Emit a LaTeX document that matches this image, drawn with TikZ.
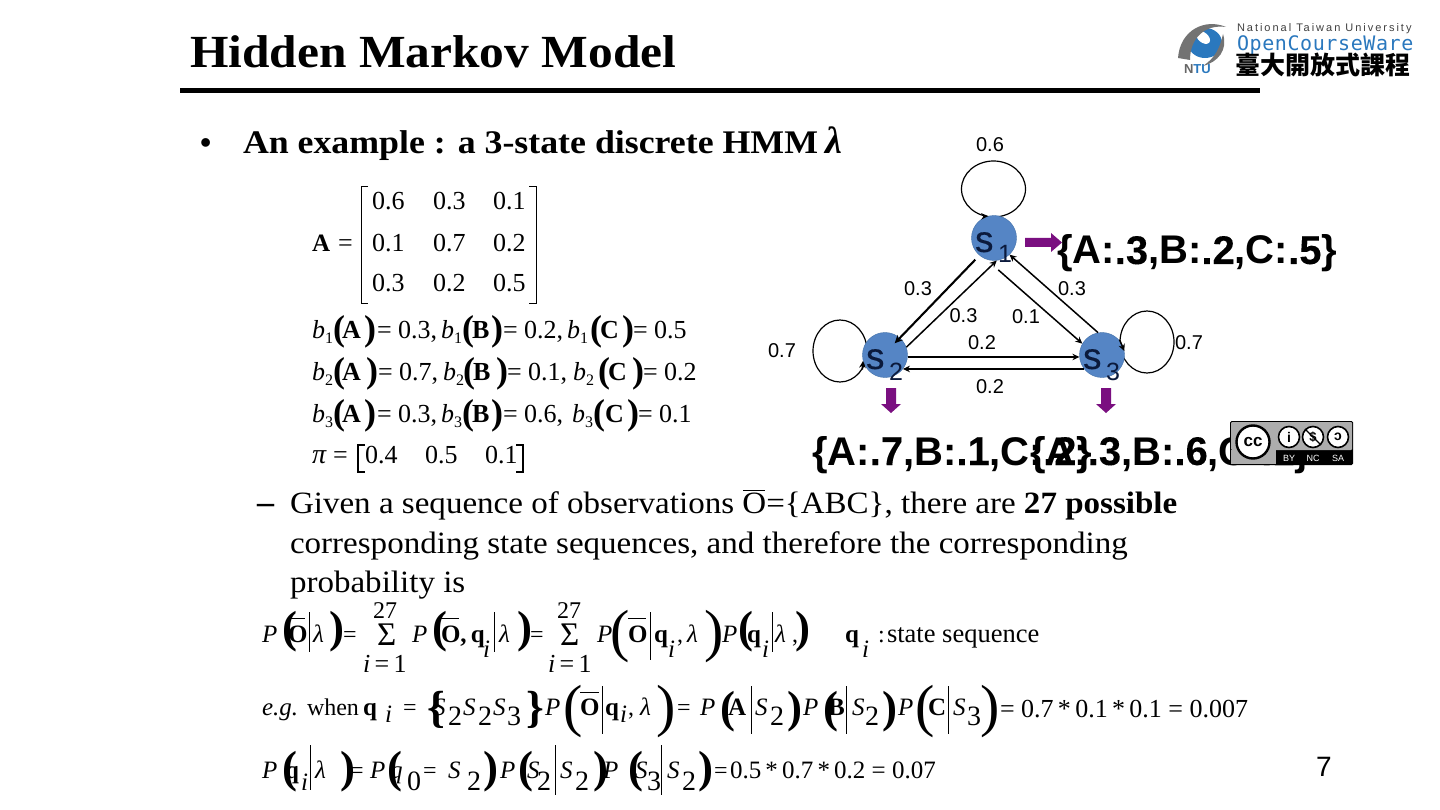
\documentclass[tikz,border=0pt]{standalone}
\usepackage{fontspec}
\usetikzlibrary{shapes.geometric,arrows.meta}
\setmainfont{Liberation Serif}
\setsansfont{Liberation Sans}
\newfontfamily\cjk{Noto Sans CJK TC}
\newfontfamily\natl[LetterSpace=18]{Liberation Sans}
\newfontfamily\ocw[LetterSpace=3]{DejaVu Sans Mono}
\newfontfamily\semi[FakeBold=0.15]{Liberation Sans}
\newcount\tc
\definecolor{statefill}{HTML}{5585C5}
\definecolor{stateline}{HTML}{3F6FA8}
\definecolor{purplea}{HTML}{7A0F80}
\definecolor{ocwblue}{HTML}{2A78BE}
\definecolor{navy}{HTML}{0B1A3C}
\tikzset{
  lab/.style={anchor=base west,inner sep=0pt,outer sep=0pt},
  state/.style={circle,draw=stateline,fill=statefill,minimum size=45pt,inner sep=0pt},
  loopa/.style={ellipse,draw=black,line width=1.2pt,inner sep=0pt},
  edge/.style={draw=black,line width=1.5pt,-{Stealth[length=7pt,width=6.5pt]}},
  edgeb/.style={draw=black,line width=2.1pt,-{Stealth[length=8pt,width=7.5pt]}},
  elab/.style={inner sep=0pt,font=\sffamily\fontsize{20}{20}\selectfont},
  block/.style={fill=purplea,draw=none},
  hair/.style={draw=black,line width=.6pt},
}
\newcommand{\tx}[4]{\global\advance\tc by 1 \node[lab] (t\the\tc) at (#1,#2) {\fontsize{#3}{#3}\selectfont #4};}
\newcommand{\R}[3]{\tx{#1}{#2}{24}{#3}}
\newcommand{\I}[3]{\tx{#1}{#2}{25}{\itshape #3}}
\newcommand{\Bo}[3]{\tx{#1}{#2}{25}{\bfseries #3}}
\newcommand{\BP}[3]{\tx{#1}{#2}{45}{\bfseries #3}}
\newcommand{\TP}[3]{\tx{#1}{#2}{58}{#3}}
\newcommand{\Su}[3]{\tx{#1}{#2}{28}{#3}}
\newcommand{\VB}[3]{\draw[hair] (#1,#2) -- (#1,#3);}
\newcommand{\OB}[3]{\draw[hair] (#1,#3) -- (#2,#3);}
\newcommand{\Dist}[5]{\tx{#1}{#2}{40}{\sffamily\bfseries\{A:{\semi #3},B:{\semi #4},C:{\semi #5}\}}}
\newcommand{\BL}[3]{\tx{#1}{#2}{26}{\itshape b}\tx{#1+13}{#2+5}{16}{#3}}
\newcommand{\PB}[3]{\tx{#1}{#2}{36}{\bfseries #3}}
\begin{document}
\begin{tikzpicture}[x=1pt,y=-1pt]
\useasboundingbox (0,0) rectangle (1440,810);
\fill[white] (0,0) rectangle (1440,810);
% title
\tx{190}{68}{46}{\bfseries\addfontfeature{FakeStretch=1.075}Hidden Markov Model}
\fill[black] (180,88) rectangle (1260,93);
% bullet line
\tx{200}{154}{32}{\bfseries •}
\tx{243}{154}{33}{\bfseries\addfontfeature{FakeStretch=1.085}An example : a 3-state discrete HMM}
\tx{825}{154}{38}{\bfseries\itshape λ}
% matrix
\Bo{312}{252}{A}
\tx{338}{252}{26}{=}
\draw[line width=.9pt] (368,186) -- (361,186) -- (361,303) -- (368,303);
\draw[line width=.9pt] (529,186) -- (536,186) -- (536,303) -- (529,303);
\tx{372}{210}{26}{0.6}\tx{433}{210}{26}{0.3}\tx{493}{210}{26}{0.1}
\tx{372}{252}{26}{0.1}\tx{433}{252}{26}{0.7}\tx{493}{252}{26}{0.2}
\tx{372}{292}{26}{0.3}\tx{433}{292}{26}{0.2}\tx{493}{292}{26}{0.5}
% b lines
\BL{312}{338}{1}\PB{333}{340}{(}\tx{342}{338}{26}{\bfseries A}\PB{364}{340}{)}\tx{377}{338}{26}{= 0.3,}
\BL{441}{338}{1}\PB{462}{340}{(}\tx{472}{338}{26}{\bfseries B}\PB{491}{340}{)}\tx{503}{338}{26}{= 0.2,}
\BL{567}{338}{1}\PB{590}{340}{(}\tx{600}{338}{26}{\bfseries C}\PB{622}{340}{)}\tx{633}{338}{26}{= 0.5}
\BL{312}{380}{2}\PB{333}{382}{(}\tx{342}{380}{26}{\bfseries A}\PB{366}{382}{)}\tx{378}{380}{26}{= 0.7,}
\BL{443}{380}{2}\PB{463}{382}{(}\tx{473}{380}{26}{\bfseries B}\PB{496}{382}{)}\tx{507}{380}{26}{= 0.1,}
\BL{573}{380}{2}\PB{598}{382}{(}\tx{608}{380}{26}{\bfseries C}\PB{632}{382}{)}\tx{643}{380}{26}{= 0.2}
\BL{312}{422}{3}\PB{333}{424}{(}\tx{342}{422}{26}{\bfseries A}\PB{364}{424}{)}\tx{377}{422}{26}{= 0.3,}
\BL{441}{422}{3}\PB{462}{424}{(}\tx{472}{422}{26}{\bfseries B}\PB{491}{424}{)}\tx{503}{422}{26}{= 0.6,}
\BL{572}{422}{3}\PB{593}{424}{(}\tx{605}{422}{26}{\bfseries C}\PB{627}{424}{)}\tx{638}{422}{26}{= 0.1}
\tx{312}{463}{28}{\itshape π}\tx{333}{463}{26}{=}
\draw[line width=1.3pt] (365,445) -- (358,445) -- (358,472) -- (365,472);
\draw[line width=1.3pt] (516,445) -- (523,445) -- (523,472) -- (516,472);
\tx{365}{463}{26}{0.4}\tx{425}{463}{26}{0.5}\tx{485}{463}{26}{0.1}
% states
\node[loopa,minimum width=64pt,minimum height=56pt] (loopone) at (993.5,189) {};
\node[loopa,minimum width=54pt,minimum height=62pt] (looptwo) at (840,351) {};
\node[loopa,minimum width=54pt,minimum height=62pt] (loopthree) at (1147,342) {};
\node[state] (s1) at (994,238) {};
\node[state] (s2) at (885,355) {};
\node[state] (s3) at (1102,355) {};
\tx{975}{252}{37}{\semi\color{navy}s}\tx{998}{263}{25}{\sffamily\color{navy}1}
\tx{866}{369}{37}{\semi\color{navy}s}\tx{889}{380}{25}{\sffamily\color{navy}2}
\tx{1083}{369}{37}{\semi\color{navy}s}\tx{1106}{380}{25}{\sffamily\color{navy}3}
% connectors
\draw[edgeb,shorten <=6pt,shorten >=-7.5pt] (s1.230) -- (s2.49);
\draw[edge] (s2.20) -- (s1.277);
\draw[edge,shorten <=16pt] (s1.-110) -- (s3.150);
\draw[edge] (s3.100) -- (s1.-47);
\draw[edge] (s2.-5) -- (s3.185);
\draw[edge] (s3.218) -- (s2.-38);
\draw[edge] (loopone.250) -- (s1.105);
\draw[edge] (looptwo.-40) -- (s2.195);
\draw[edge] (loopthree.175) -- (s3.10);
% edge labels
\node[elab] (l1) at (990,145) {0.6};
\node[elab] (l2) at (918,289) {0.3};
\node[elab] (l3) at (963.5,316) {0.3};
\node[elab] (l4) at (1026,317) {0.1};
\node[elab] (l5) at (1072,289) {0.3};
\node[elab] (l6) at (982,343) {0.2};
\node[elab] (l7) at (990,387) {0.2};
\node[elab] (l8) at (782,351) {0.7};
\node[elab] (l9) at (1189,343) {0.7};
% purple arrows
\fill[block] (1025,238) -- (1051,238) -- (1051,233) -- (1062,242.5) -- (1051,252) -- (1051,247) -- (1025,247) -- cycle;
\fill[block] (886,388) -- (896,388) -- (896,404) -- (901,404) -- (891,413) -- (881,404) -- (886,404) -- cycle;
\fill[block] (1101,388) -- (1111,388) -- (1111,404) -- (1116,404) -- (1106,413) -- (1096,404) -- (1101,404) -- cycle;
% distributions
\Dist{1057}{264}{.3}{.2}{.5}
\Dist{812}{465}{.7}{.1}{.2}
\Dist{1030}{465}{.3}{.6}{.1}
% CC badge
\fill[black,rounded corners=1.5pt] (1230,421) rectangle (1353,465);
\fill[black!32,rounded corners=1pt] (1231,422) rectangle (1352,450);
\fill[black!32] (1231,450) rectangle (1276,464);
\node[circle,draw=black,line width=2.4pt,fill=white,minimum size=33pt,inner sep=0pt,font=\sffamily\bfseries\fontsize{17}{17}\selectfont] (cc) at (1253,442) {cc};
\node[circle,draw=black,line width=1.6pt,fill=white,minimum size=21pt,inner sep=0pt,font=\sffamily\bfseries\fontsize{14}{14}\selectfont] (by) at (1289,437) {i};
\node[circle,draw=black,line width=1.6pt,fill=white,minimum size=21pt,inner sep=0pt,font=\sffamily\bfseries\fontsize{13}{13}\selectfont] (nc) at (1313,437) {\$};
\draw[black,line width=1.2pt] (nc.135) -- (nc.-45);
\node[circle,draw=black,line width=1.6pt,fill=white,minimum size=21pt,inner sep=0pt,font=\sffamily\bfseries\fontsize{14}{14}\selectfont] (sa) at (1338,437) {\reflectbox{c}};
\node[inner sep=0pt,text=white,font=\sffamily\fontsize{9}{9}\selectfont] (byt) at (1289,458) {BY};
\node[inner sep=0pt,text=white,font=\sffamily\fontsize{9}{9}\selectfont] (nct) at (1313,458) {NC};
\node[inner sep=0pt,text=white,font=\sffamily\fontsize{9}{9}\selectfont] (sat) at (1338,458) {SA};
% sub bullet text
\tx{257}{513}{34}{\bfseries –}
\tx{290}{513}{31}{\addfontfeature{FakeStretch=1.066}Given a sequence of observations O=\{ABC\}, there are {\bfseries\addfontfeature{FakeStretch=1.066}27 possible}}
\draw[black,line width=1pt] (743,490) -- (765,490);
\tx{290}{553}{31}{\addfontfeature{FakeStretch=1.066}corresponding state sequences, and therefore the corresponding}
\tx{290}{592}{31}{\addfontfeature{FakeStretch=1.066}probability is}
% formula line 1
\I{262}{642}{P}\BP{282}{642}{(}\Bo{288}{642}{O}\OB{288}{305}{618}\VB{309}{612}{652}\I{313}{642}{λ}\BP{329}{642}{)}\R{343}{642}{=}
\R{373}{618}{27}\tx{377}{645}{33}{Σ}\tx{363}{672}{26}{\itshape i\,\upshape =\,1}
\I{412}{642}{P}\BP{432}{642}{(}\Bo{441}{642}{O,\,q}\OB{441}{459}{618}\I{483}{657}{i}\VB{494}{612}{652}\I{499}{642}{λ}\BP{517}{642}{)}\R{530}{642}{=}
\R{557}{618}{27}\tx{560}{645}{33}{Σ}\tx{548}{672}{26}{\itshape i\,\upshape =\,1}
\I{597}{642}{P}\TP{610}{650}{(}\Bo{628}{642}{O}\OB{628}{646}{618}\VB{650}{612}{660}\Bo{654}{642}{q}\I{668}{657}{i}\R{677}{642}{,}\I{687}{642}{λ}\TP{704}{650}{)}
\I{722}{642}{P}\BP{738}{642}{(}\Bo{747}{642}{q}\I{762}{657}{i}\VB{772}{612}{652}\I{775}{642}{λ}\BP{795}{642}{)}\R{792}{642}{,}
\Bo{845}{642}{q}\I{862}{657}{i}\R{878}{642}{:}\tx{887}{642}{26.5}{state sequence}
% formula line 2
\I{262}{715}{e.g.}\R{307}{715}{when}\Bo{363}{715}{q}\I{385}{722}{i}\R{403}{715}{=}
\BP{427}{722}{\{}\I{433}{715}{S}\Su{448}{725}{2}\I{463}{715}{S}\Su{478}{725}{2}\I{493}{715}{S}\Su{507}{725}{3}\BP{526}{722}{\}}
\I{545}{715}{P}\TP{563}{725}{(}\Bo{580}{715}{O}\OB{580}{599}{692}\VB{602}{686}{734}\Bo{605}{715}{q}\I{620}{722}{i}\R{628}{715}{,}\I{640}{715}{λ}\TP{656}{725}{)}\R{677}{715}{=}
\I{700}{715}{P}\BP{720}{722}{(}\Bo{728}{715}{A}\VB{751}{686}{734}\I{755}{715}{S}\Su{770}{725}{2}\BP{787}{722}{)}
\I{803}{715}{P}\BP{823}{722}{(}\Bo{828}{715}{B}\VB{846}{686}{734}\I{852}{715}{S}\Su{865}{725}{2}\BP{882}{722}{)}
\I{898}{715}{P}\TP{915}{725}{(}\Bo{928}{715}{C}\VB{948}{686}{734}\I{953}{715}{S}\Su{967}{725}{3}\TP{980}{725}{)}
\tx{1000}{717}{26}{= 0.7\,*\,0.1\,*\,0.1 = 0.007}
% formula line 3
\I{262}{778}{P}\BP{282}{782}{(}\Bo{285}{778}{q}\I{301}{790}{i}\VB{310}{745}{790}\I{315}{778}{λ}\BP{340}{782}{)}\R{350}{778}{=}
\I{370}{778}{P}\BP{387}{782}{(}\I{390}{778}{q}\Su{407}{790}{0}\R{423}{778}{=}\I{448}{778}{S}\Su{467}{790}{2}\BP{483}{782}{)}
\I{500}{778}{P}\BP{518}{782}{(}\I{527}{778}{S}\Su{537}{790}{2}\VB{555}{745}{795}\I{560}{778}{S}\Su{575}{790}{2}\BP{593}{782}{)}
\I{603}{778}{P}\BP{628}{782}{(}\I{635}{778}{S}\Su{647}{790}{3}\VB{661}{745}{795}\I{667}{778}{S}\Su{682}{790}{2}\BP{698}{782}{)}
\R{714}{778}{=}\tx{730}{778}{25}{0.5\,*\,0.7\,*\,0.2 = 0.07}
% page number
\tx{1316}{776}{28}{\sffamily 7}
% logo
\fill[ocwblue] (1205,43) ellipse[x radius=17pt,y radius=15pt];
\fill[white,rotate around={-40:(1205,43)}] (1200,40) ellipse[x radius=8pt,y radius=5pt];
\fill[black!55] (1178,58) .. controls (1180,30) and (1205,18) .. (1226,27) .. controls (1205,24) and (1190,38) .. (1190,60) -- cycle;
\fill[black!55] (1223,34) .. controls (1228,50) and (1218,62) .. (1203,66) .. controls (1215,58) and (1220,48) .. (1223,34) -- cycle;
\tx{1184}{74}{13}{\sffamily\bfseries\textcolor{black!60}{N}\textcolor{ocwblue}{TU}}
\tx{1237}{32}{11}{\natl\textcolor{black!75}{National Taiwan University}}
\tx{1237}{51}{20}{\ocw\textcolor{ocwblue}{OpenCourseWare}}
\tx{1235}{75}{25}{\cjk\bfseries 臺大開放式課程}
\end{tikzpicture}
\end{document}
